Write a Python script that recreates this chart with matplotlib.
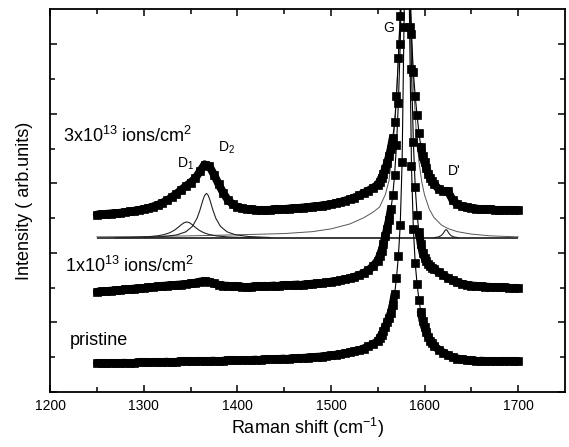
'''Raman spectra of pristine and ion-irradiated graphite with peak fit'''
import numpy as np
import matplotlib
matplotlib.use('Agg')
import matplotlib.pyplot as plt
from matplotlib.collections import LineCollection

plt.rcParams['font.family'] = ['Liberation Sans', 'DejaVu Sans']
plt.rcParams['mathtext.default'] = 'regular'

# measurement grid: 5 cm-1 away from G, 2 cm-1 across the G band
shift = np.concatenate([np.arange(1250, 1550, 5),
                        np.arange(1550, 1612, 2),
                        np.arange(1615, 1705, 5)])

# pristine spectrum (offset for display)
pristine_lo = [0.82, 0.82, 0.82, 0.83, 0.83, 0.83, 0.84, 0.84, 0.84, 0.85,
               0.85, 0.85, 0.86, 0.86, 0.86, 0.87, 0.87, 0.87, 0.88, 0.88,
               0.88, 0.89, 0.89, 0.89, 0.89, 0.90, 0.90, 0.90, 0.91, 0.91,
               0.91, 0.92, 0.92, 0.92, 0.93, 0.93, 0.94, 0.94, 0.95, 0.95,
               0.96, 0.96, 0.97, 0.98, 0.98, 0.99, 1.00, 1.01, 1.02, 1.04,
               1.05, 1.07, 1.09, 1.11, 1.14, 1.17, 1.20, 1.25, 1.31, 1.38]
pristine_g = [1.46, 1.55, 1.65, 1.75, 1.87, 2.00, 2.14, 2.28, 2.50, 2.82,
              3.28, 3.90, 4.80, 6.60, 10.5, 15.0, 15.0, 10.5, 6.50, 4.70,
              3.70, 3.10, 2.65, 2.30, 2.05, 1.86, 1.72, 1.59, 1.48, 1.40,
              1.33]
pristine_hi = [1.22, 1.13, 1.06, 1.00, 0.96, 0.94, 0.92, 0.91, 0.90, 0.90,
               0.89, 0.89, 0.89, 0.88, 0.88, 0.88, 0.88, 0.88]

# 1x10^13 ions/cm^2
dose1_lo = [2.88, 2.89, 2.90, 2.91, 2.92, 2.93, 2.95, 2.96, 2.97, 2.98,
            2.99, 3.01, 3.02, 3.04, 3.05, 3.06, 3.07, 3.08, 3.09, 3.10,
            3.12, 3.14, 3.17, 3.19, 3.17, 3.12, 3.08, 3.06, 3.05, 3.04,
            3.04, 3.03, 3.03, 3.03, 3.04, 3.04, 3.05, 3.05, 3.06, 3.06,
            3.07, 3.07, 3.08, 3.09, 3.09, 3.10, 3.11, 3.12, 3.13, 3.15,
            3.17, 3.19, 3.21, 3.24, 3.27, 3.31, 3.36, 3.42, 3.50, 3.62]
dose1_g = [3.78, 3.90, 4.05, 4.25, 4.48, 4.70, 4.95, 5.25, 5.65, 6.25,
           7.10, 8.30, 10.0, 12.5, 16.0, 18.0, 16.5, 12.5, 9.30, 7.20,
           5.90, 5.10, 4.60, 4.25, 4.00, 3.86, 3.76, 3.68, 3.62, 3.57,
           3.53]
dose1_hi = [3.45, 3.36, 3.28, 3.21, 3.15, 3.11, 3.08, 3.06, 3.05, 3.04,
            3.03, 3.02, 3.02, 3.01, 3.01, 3.00, 3.00, 3.00]

# 3x10^13 ions/cm^2
dose3_lo = [5.10, 5.11, 5.12, 5.13, 5.14, 5.15, 5.17, 5.19, 5.21, 5.23,
            5.26, 5.29, 5.33, 5.38, 5.44, 5.51, 5.60, 5.70, 5.81, 5.92,
            6.02, 6.14, 6.34, 6.54, 6.50, 6.25, 5.98, 5.72, 5.52, 5.40,
            5.32, 5.28, 5.26, 5.25, 5.24, 5.24, 5.24, 5.24, 5.25, 5.25,
            5.26, 5.27, 5.28, 5.29, 5.30, 5.31, 5.33, 5.34, 5.36, 5.38,
            5.40, 5.43, 5.46, 5.50, 5.54, 5.59, 5.65, 5.72, 5.79, 5.87]
dose3_g = [5.96, 6.05, 6.16, 6.28, 6.42, 6.58, 6.78, 7.00, 7.30, 7.75,
           8.50, 9.60, 10.8, 12.5, 14.0, 14.5, 13.8, 12.0, 10.3, 9.20,
           8.50, 7.95, 7.45, 7.05, 6.78, 6.60, 6.43, 6.28, 6.16, 6.07,
           5.98]
dose3_hi = [5.84, 5.77, 5.77, 5.52, 5.40, 5.34, 5.31, 5.29, 5.27, 5.26,
            5.25, 5.25, 5.24, 5.24, 5.24, 5.24, 5.24, 5.24]

pristine = pristine_lo + pristine_g + pristine_hi
dose1 = dose1_lo + dose1_g + dose1_hi
dose3 = dose3_lo + dose3_g + dose3_hi

# fitted components of the 3x10^13 spectrum, heights above the fit baseline
fit_base = 4.42
d1_x = [1270, 1290, 1305, 1315, 1322, 1328, 1333, 1337, 1340, 1343, 1346,
        1349, 1352, 1355, 1359, 1364, 1370, 1378, 1390, 1405, 1425]
d1_y = [0.013, 0.024, 0.043, 0.070, 0.107, 0.161, 0.235, 0.318, 0.387, 0.446,
        0.470, 0.446, 0.387, 0.318, 0.235, 0.161, 0.107, 0.067, 0.038, 0.022,
        0.012]
d2_x = [1300, 1320, 1335, 1345, 1352, 1357, 1360, 1363, 1365, 1367,
        1369, 1371, 1374, 1377, 1382, 1389, 1398, 1412, 1435]
d2_y = [0.023, 0.046, 0.095, 0.185, 0.341, 0.577, 0.804, 1.077, 1.229, 1.290,
        1.229, 1.077, 0.804, 0.577, 0.341, 0.185, 0.100, 0.050, 0.022]
g_x = [1250, 1300, 1350, 1400, 1450, 1480, 1500, 1520, 1535, 1545, 1552,
       1558, 1562, 1566, 1569, 1572, 1574, 1576, 1578, 1580, 1582, 1584,
       1586, 1588, 1591, 1594, 1597, 1600, 1605, 1610, 1618, 1625, 1635,
       1650, 1670, 1700]
g_y = [0.04, 0.05, 0.07, 0.10, 0.135, 0.19, 0.27, 0.41, 0.59, 0.75, 0.90,
       1.25, 1.65, 2.60, 3.60, 5.20, 6.60, 8.40, 9.60, 10.0, 9.05, 7.45,
       5.84, 4.51, 3.10, 2.20, 1.62, 1.24, 0.84, 0.60, 0.38, 0.28, 0.19,
       0.12, 0.07, 0.04]
dp_x = [1610, 1615, 1618, 1620, 1622, 1623, 1624, 1626, 1628, 1631, 1636]
dp_y = [0.017, 0.040, 0.082, 0.144, 0.230, 0.250, 0.230, 0.144, 0.082,
        0.040, 0.017]

fig = plt.figure(figsize=(5.69, 4.47), dpi=100)
ax = fig.add_axes([0.088, 0.123, 0.905, 0.856])

# fit components
ax.hlines(fit_base, 1250, 1700, color='#3a3a3a', lw=1.4, zorder=2)
ax.plot(g_x, np.array(g_y) + fit_base, color='#555555', lw=0.7, zorder=2)
ax.plot(d1_x, np.array(d1_y) + fit_base, color='#222222', lw=0.8, zorder=2)
ax.plot(d2_x, np.array(d2_y) + fit_base, color='#222222', lw=0.8, zorder=2)
ax.plot(dp_x, np.array(dp_y) + fit_base, color='#222222', lw=0.8, zorder=2)

# measured spectra: square symbols, merged into a solid band where the
# symbols overlap, joined by a thin line across the steep G flanks
for spec in (pristine, dose1, dose3):
    y = np.asarray(spec)
    pts = np.column_stack([shift, y])
    segs = np.stack([pts[:-1], pts[1:]], axis=1)
    dense = np.abs(np.diff(y)) < 0.35
    ax.add_collection(LineCollection(segs[dense], colors='black',
                                     linewidths=5.8, capstyle='round',
                                     zorder=3))
    ax.plot(shift, y, color='black', lw=0.8, marker='s', ms=5.4,
            mec='black', mew=0.5, mfc='black', zorder=3)

ax.set_xlim(1200, 1750)
ax.set_ylim(0, 11)
ax.set_xticks(np.arange(1200, 1750, 100))
ax.set_xticks(np.arange(1250, 1750, 100), minor=True)
ax.set_yticks(np.arange(0, 11.5, 2))
ax.set_yticks(np.arange(1, 11, 2), minor=True)
ax.tick_params(which='both', direction='in', top=True, right=True,
               labelleft=False, labelsize=10, width=1.1, pad=5)
ax.tick_params(which='major', length=5)
ax.tick_params(which='minor', length=3.5)
for sp in ax.spines.values():
    sp.set_linewidth(1.3)

ax.set_xlabel('Raman shift (cm$^{-1}$)', fontsize=13, labelpad=2)
ax.set_ylabel('Intensity ( arb.units)', fontsize=13, labelpad=12)

ax.text(1214, 7.19, '3x10$^{13}$ ions/cm$^2$', fontsize=13)
ax.text(1216, 3.46, '1x10$^{13}$ ions/cm$^2$', fontsize=13)
ax.text(1221, 1.35, 'pristine', fontsize=13)

ax.text(1556, 10.35, 'G', fontsize=10)
ax.text(1335.5, 6.44, 'D$_1$', fontsize=10)
ax.text(1379.5, 6.9, 'D$_2$', fontsize=10)
ax.text(1625, 6.24, "D'", fontsize=10)

fig.savefig('out.png', dpi=100)
